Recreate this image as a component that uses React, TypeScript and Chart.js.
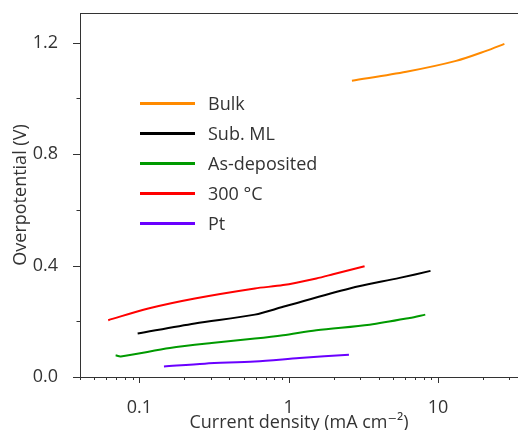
import React, { useEffect, useRef } from "react";
import { Chart, registerables } from "chart.js";

Chart.register(...registerables);

const seriesNames = ["Bulk", "Sub. ML", "As-deposited", "300 °C", "Pt"];
const seriesColors = ["#ff8a00", "#000000", "#009a00", "#ff0000", "#6a00ff"];

const bulkX = [2.65, 6.13, 13.2, 21.0, 27.8];
const bulkY = [1.064, 1.096, 1.135, 1.171, 1.196];

const subMLX = [0.0973, 0.235, 0.593, 0.916, 2.56, 5.53, 8.9];
const subMLY = [0.156, 0.192, 0.224, 0.252, 0.318, 0.356, 0.381];

const asDepX = [0.0693, 0.075, 0.16, 0.304, 0.593, 0.916, 1.53, 3.48, 6.45, 8.21];
const asDepY = [0.078, 0.074, 0.104, 0.122, 0.138, 0.15, 0.168, 0.188, 0.212, 0.224];

const c300X = [0.0618, 0.1146, 0.235, 0.593, 0.916, 1.53, 1.98, 3.22];
const c300Y = [0.204, 0.246, 0.282, 0.318, 0.33, 0.354, 0.369, 0.398];

const ptX = [0.146, 0.274, 0.593, 1.18, 2.53];
const ptY = [0.038, 0.048, 0.056, 0.068, 0.08];

const xMajorTicks = [0.1, 1, 10];
const xMinorTicks = [
  0.04, 0.05, 0.06, 0.07, 0.08, 0.09,
  0.2, 0.3, 0.4, 0.5, 0.6, 0.7, 0.8, 0.9,
  2, 3, 4, 5, 6, 7, 8, 9,
  20, 30,
];
const yMajorTicks = [0, 0.4, 0.8, 1.2];
const yMinorTicks = [0.2, 0.6, 1.0];

const xTitle = "Current density (mA cm\u207B\u00B2)";
const yTitle = "Overpotential (V)";

const FONT = "'Open Sans', 'DejaVu Sans', sans-serif";
const FS = 18;
const TEXT = "#333333";

const seriesX = [bulkX, subMLX, asDepX, c300X, ptX];
const seriesY = [bulkY, subMLY, asDepY, c300Y, ptY];

const isMajor = (list: number[], v: number) =>
  list.some((m) => Math.abs(m - v) < 1e-9 * Math.max(1, Math.abs(m)));

const decorPlugin = {
  id: "decor",
  afterDraw(chart: any) {
    const { ctx, chartArea, scales } = chart;
    ctx.save();
    ctx.strokeStyle = TEXT;
    ctx.lineWidth = 1;
    // top border
    ctx.beginPath();
    ctx.moveTo(chartArea.left, chartArea.top + 0.5);
    ctx.lineTo(chartArea.right, chartArea.top + 0.5);
    ctx.stroke();
    // x ticks
    const xs = scales.x;
    const yb = chartArea.bottom;
    xs.ticks.forEach((t: any) => {
      const px = Math.round(xs.getPixelForValue(t.value)) + 0.5;
      const len = isMajor(xMajorTicks, t.value) ? 6 : 3;
      ctx.beginPath();
      ctx.moveTo(px, yb);
      ctx.lineTo(px, yb + len);
      ctx.stroke();
    });
    const ys = scales.y;
    const xl = chartArea.left;
    ys.ticks.forEach((t: any) => {
      const py = Math.round(ys.getPixelForValue(t.value)) + 0.5;
      const len = isMajor(yMajorTicks, t.value) ? 7 : 3.5;
      ctx.beginPath();
      ctx.moveTo(xl, py);
      ctx.lineTo(xl - len, py);
      ctx.stroke();
    });
    // legend
    const lx0 = chartArea.left + 60;
    const lx1 = lx0 + 55;
    const ly0 = chartArea.top + 90.5;
    ctx.font = `${FS}px ${FONT}`;
    ctx.textBaseline = "middle";
    ctx.textAlign = "left";
    chart.data.datasets.forEach((ds: any, i: number) => {
      const y = ly0 + i * 30;
      ctx.strokeStyle = ds.borderColor;
      ctx.lineWidth = 3;
      ctx.beginPath();
      ctx.moveTo(lx0, y);
      ctx.lineTo(lx1, y);
      ctx.stroke();
      ctx.fillStyle = TEXT;
      ctx.fillText(ds.label, lx1 + 13, y + 1);
    });
    ctx.restore();
  },
};

export default function App() {
  const ref = useRef<HTMLCanvasElement | null>(null);
  useEffect(() => {
    document.body.style.margin = "0";
    const canvas = ref.current;
    if (!canvas) return;
    const chart = new Chart(canvas, {
      type: "line",
      data: {
        datasets: seriesNames.map((name, i) => ({
          label: name,
          data: seriesX[i].map((x, j) => ({ x, y: seriesY[i][j] })),
          borderColor: seriesColors[i],
          backgroundColor: seriesColors[i],
          borderWidth: 2,
          pointRadius: 0,
          tension: 0.3,
          fill: false,
        })),
      },
      options: {
        responsive: false,
        animation: false,
        events: [],
        layout: { padding: { top: 13, left: 0, right: 0, bottom: 0 } },
        plugins: { legend: { display: false }, tooltip: { enabled: false } },
        scales: {
          x: {
            type: "logarithmic",
            min: 0.04,
            max: 34.3,
            afterBuildTicks: (s: any) => {
              s.ticks = [...xMinorTicks, ...xMajorTicks]
                .sort((a, b) => a - b)
                .map((v) => ({ value: v }));
            },
            afterFit: (s: any) => {
              s.height = 53;
              s.paddingLeft = 0;
              s.paddingRight = 0;
            },
            grid: { display: false },
            border: { display: true, color: TEXT, width: 1 },
            ticks: {
              autoSkip: false,
              maxRotation: 0,
              padding: 12,
              color: TEXT,
              font: { family: FONT, size: FS },
              callback: (v: any) => {
                const n = Number(v);
                return isMajor(xMajorTicks, n) ? String(n) : "";
              },
            },
            title: {
              display: true,
              text: xTitle,
              color: TEXT,
              font: { family: FONT, size: FS },
              padding: { top: 0, bottom: -4 },
            },
          },
          y: {
            type: "linear",
            min: 0,
            max: 1.307,
            afterBuildTicks: (s: any) => {
              s.ticks = [...yMajorTicks, ...yMinorTicks]
                .sort((a, b) => a - b)
                .map((v) => ({ value: v }));
            },
            afterFit: (s: any) => {
              s.width = 80;
              s.paddingTop = 0;
              s.paddingBottom = 0;
            },
            grid: { display: false },
            border: { display: true, color: TEXT, width: 1 },
            ticks: {
              autoSkip: false,
              padding: 14,
              color: TEXT,
              font: { family: FONT, size: FS },
              callback: (v: any) => {
                const n = Number(v);
                return isMajor(yMajorTicks, n) ? n.toFixed(1) : "";
              },
            },
            title: {
              display: true,
              text: yTitle,
              color: TEXT,
              font: { family: FONT, size: FS },
              padding: { top: 10, bottom: 0 },
            },
          },
        },
      },
      plugins: [decorPlugin],
    });
    return () => chart.destroy();
  }, []);
  return (
    <div style={{ position: "absolute", left: 0, top: 0, width: 518, height: 430 }}>
      <canvas ref={ref} width={518} height={430} />
    </div>
  );
}
